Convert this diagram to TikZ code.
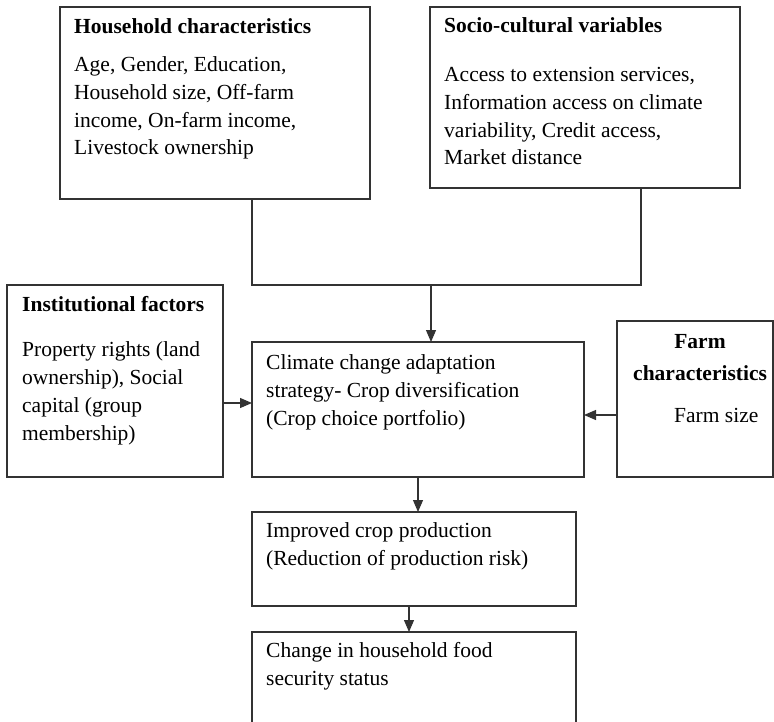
\documentclass[tikz,border=0pt]{standalone}
\usepackage{fontspec}
\setmainfont{Liberation Serif}
\usetikzlibrary{arrows.meta}

\begin{document}
\begin{tikzpicture}[x=1pt,y=-1pt,
  font=\fontsize{21.5}{27.7}\selectfont,
  box/.style={draw=black!80, line width=1.1pt, inner sep=0pt, outer sep=0pt, anchor=north west},
  txt/.style={inner sep=0pt, anchor=base west, align=left},
  head/.style={txt, font=\fontsize{21.5}{27.7}\selectfont\bfseries},
  link/.style={draw=black!80, line width=1.1pt},
  arr/.style={link, -{Triangle[length=12pt,width=10pt]}}]

\useasboundingbox (0,0) rectangle (774,722);
\clip (0,0) rectangle (774,722);

% --- Boxes ---
\node[box, minimum width=310pt, minimum height=192pt] (hh) at (60,7) {};
\node[box, minimum width=310pt, minimum height=181pt] (sc) at (430,7) {};
\node[box, minimum width=216pt, minimum height=192pt] (inst) at (7,285) {};
\node[box, minimum width=332pt, minimum height=135pt] (ccas) at (252,342) {};
\node[box, minimum width=156pt, minimum height=156pt] (farm) at (617,321) {};
\node[box, minimum width=324pt, minimum height=94pt] (crop) at (252,512) {};
\node[box, minimum width=324pt, minimum height=120pt] (food) at (252,632) {};

% --- Top boxes text (multi-line nodes sit on their last baseline) ---
\node[head] (hh-title) at (74,34) {Household characteristics};
\node[txt] (hh-text) at (74,155) {Age, Gender, Education,\\Household size, Off-farm\\income, On-farm income,\\Livestock ownership};
\node[head] (sc-title) at (444,33) {Socio-cultural variables};
\node[txt] (sc-text) at (444,165) {Access to extension services,\\Information access on climate\\variability, Credit access,\\Market distance};

% --- Middle row text ---
\node[head] (inst-title) at (22,312) {Institutional factors};
\node[txt] (inst-text) at (22,440) {Property rights (land\\ownership), Social\\capital (group\\membership)};
\node[txt] (ccas-text) at (266,425) {Climate change adaptation\\strategy- Crop diversification\\(Crop choice portfolio)};
\node[head, anchor=base] (farm-title1) at (700,348) {Farm};
\node[head] (farm-title2) at (633,380) {characteristics};
\node[txt] (farm-text) at (674,422) {Farm size};

% --- Bottom boxes text ---
\node[txt] (crop-text) at (266,565) {Improved crop production\\(Reduction of production risk)};
\node[txt] (food-text) at (266,685) {Change in household food\\security status};

% --- Connectors ---
\coordinate (join) at (431,285);
\coordinate (bend-r) at (641,285);
\draw[link] (hh.south -| ccas.west) |- (bend-r) -- (bend-r |- sc.south);
\draw[arr] (join) -- (join |- ccas.north);
\draw[arr] ([yshift=-22pt]inst.east) -- ([yshift=-22pt]inst.east -| ccas.west);
\draw[arr] ([yshift=-16pt]farm.west) -- ([yshift=-16pt]farm.west -| ccas.east);
\draw[arr] (ccas.south) -- (ccas.south |- crop.north);
\draw[arr] ([xshift=-5pt]crop.south) -- ([xshift=-5pt]crop.south |- food.north);

\end{tikzpicture}
\end{document}
